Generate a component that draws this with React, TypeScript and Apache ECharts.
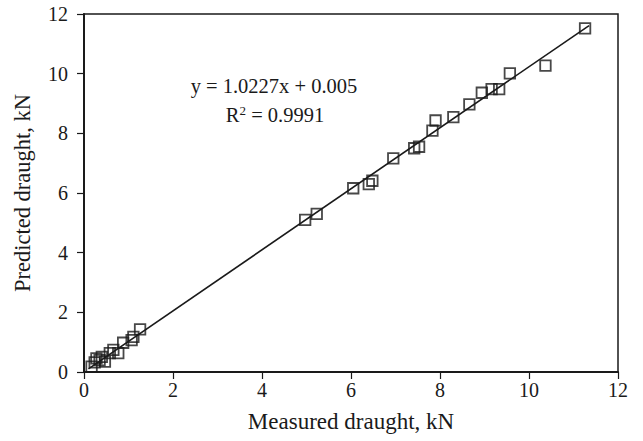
import React, { useEffect, useRef } from "react";
import * as echarts from "echarts";

const measured = [0.17, 0.24, 0.28, 0.35, 0.4, 0.47, 0.58, 0.66, 0.77, 0.88, 1.07, 1.11, 1.26, 4.97, 5.23, 6.05, 6.4, 6.48, 6.95, 7.42, 7.53, 7.83, 7.9, 8.3, 8.66, 8.94, 9.16, 9.33, 9.57, 10.37, 11.26];
const predicted = [0.18, 0.32, 0.46, 0.4, 0.51, 0.35, 0.63, 0.74, 0.63, 0.98, 1.07, 1.18, 1.43, 5.1, 5.3, 6.16, 6.3, 6.41, 7.16, 7.5, 7.55, 8.09, 8.43, 8.54, 8.97, 9.36, 9.48, 9.48, 10.01, 10.27, 11.52];
const slope = 1.0227;
const intercept = 0.005;
const trendRange = [0.1, 11.35];
const axisTicks = [0, 2, 4, 6, 8, 10, 12];
const xTitle = "Measured draught, kN";
const yTitle = "Predicted draught, kN";

const FONT = "Liberation Serif";
const INK = "#1a1a1a";

export default function App() {
  const ref = useRef<HTMLDivElement>(null);
  useEffect(() => {
    if (!ref.current) return;
    const chart = echarts.init(ref.current, null, { renderer: "svg" });
    const points = measured.map((m, i) => [m, predicted[i]]);
    const trend = trendRange.map((x) => [x, slope * x + intercept]);
    const axisCommon = {
      min: axisTicks[0],
      max: axisTicks[axisTicks.length - 1],
      interval: 2,
      splitLine: { show: false },
      axisLine: { show: true, onZero: false, lineStyle: { color: INK, width: 2 } },
      axisTick: { show: true, inside: false, length: 7, lineStyle: { color: INK, width: 1.2 } },
      nameLocation: "middle" as const,
    };
    chart.setOption({
      animation: false,
      backgroundColor: "#fff",
      grid: {
        left: 84,
        top: 14,
        right: 25,
        bottom: 69,
        show: true,
        borderColor: INK,
        borderWidth: 1.5,
      },
      xAxis: {
        ...axisCommon,
        type: "value",
        name: xTitle,
        nameGap: 38,
        nameTextStyle: { fontFamily: FONT, fontSize: 23, color: INK },
        axisLabel: { fontFamily: FONT, fontSize: 20, color: INK, margin: 8 },
      },
      yAxis: {
        ...axisCommon,
        type: "value",
        name: yTitle,
        nameGap: 50,
        nameTextStyle: { fontFamily: FONT, fontSize: 22.5, color: INK },
        axisLabel: { fontFamily: FONT, fontSize: 20, color: INK, margin: 16 },
      },
      series: [
        {
          type: "line",
          data: trend,
          symbol: "none",
          lineStyle: { color: INK, width: 1.6 },
          z: 2,
        },
        {
          type: "scatter",
          data: points,
          symbol: "rect",
          symbolSize: 10.5,
          itemStyle: { color: "rgba(0,0,0,0)", borderColor: INK, borderWidth: 1.8 },
          z: 3,
        },
      ],
      graphic: [
        {
          type: "text",
          x: 274,
          y: 86,
          style: {
            text: `y = ${slope}x + ${intercept}`,
            fontFamily: FONT,
            fontSize: 20.5,
            fill: INK,
            textAlign: "center",
            textVerticalAlign: "middle",
          },
        },
        {
          type: "text",
          x: 275,
          y: 115,
          style: {
            text: "R{sup|2} = 0.9991",
            fontFamily: FONT,
            fontSize: 20.5,
            fill: INK,
            textAlign: "center",
            textVerticalAlign: "middle",
            rich: {
              sup: { fontFamily: FONT, fontSize: 13, fill: INK, padding: [0, 0, 10, 0] },
            },
          },
        },
      ],
    });
    return () => chart.dispose();
  }, []);
  return (
    <div
      ref={ref}
      style={{ position: "absolute", left: 0, top: 0, width: 643, height: 441 }}
    />
  );
}
